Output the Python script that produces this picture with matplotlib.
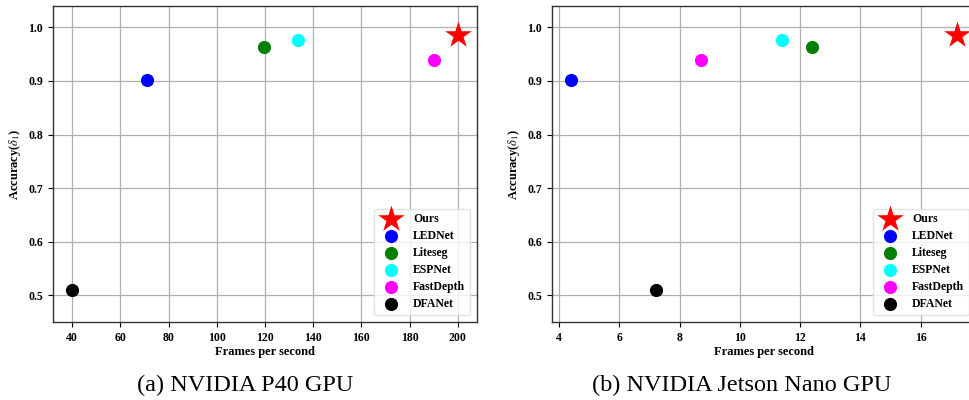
import matplotlib
matplotlib.use("Agg")
import matplotlib.pyplot as plt

plt.rcParams['font.family'] = ['Liberation Serif', 'DejaVu Serif']
plt.rcParams['mathtext.fontset'] = 'stix'

methods = ["Ours", "LEDNet", "Liteseg", "ESPNet", "FastDepth", "DFANet"]
colors = ["red", "blue", "green", "cyan", "magenta", "black"]
markers = ["*", "o", "o", "o", "o", "o"]

accuracy = [0.985, 0.902, 0.963, 0.977, 0.940, 0.510]
fps_p40 = [200, 71, 119.5, 133.5, 190, 40]
fps_nano = [17.2, 4.4, 12.4, 11.4, 8.7, 7.2]

captions = ["(a) NVIDIA P40 GPU", "(b) NVIDIA Jetson Nano GPU"]


def draw_panel(ax, fps):
    for name, x, y, c, m in zip(methods, fps, accuracy, colors, markers):
        size = 400 if m == "*" else 90
        ax.scatter(x, y, s=size, c=c, marker=m, label=name, zorder=3, linewidths=0)
    ax.set_ylim(0.45, 1.04)
    ax.grid(True, color="#b0b0b0", linewidth=0.9, zorder=0)
    ax.set_axisbelow(True)
    for sp in ax.spines.values():
        sp.set_color("#333333")
        sp.set_linewidth(1.0)
    ax.tick_params(labelsize=8.5, length=3.5, width=0.8)
    for lab in ax.get_xticklabels() + ax.get_yticklabels():
        lab.set_fontweight("bold")
    ax.set_xlabel("Frames per second", fontsize=9, fontweight="bold", labelpad=2)
    ax.set_ylabel(r"Accuracy($\delta_1$)", fontsize=9, fontweight="bold", labelpad=4)
    ax.legend(loc="lower right", prop={"weight": "bold", "size": 8.5},
              framealpha=0.8, edgecolor="#dddddd", handletextpad=0.9,
              labelspacing=0.42, borderpad=0.4, borderaxespad=0.6)


fig = plt.figure(figsize=(9.69, 4.0), dpi=100)
ax1 = fig.add_axes([53 / 969, 78 / 400, 424 / 969, 316 / 400])
ax2 = fig.add_axes([552 / 969, 78 / 400, 424 / 969, 316 / 400])

draw_panel(ax1, fps_p40)
draw_panel(ax2, fps_nano)

fig.text(245 / 969, 15 / 400, captions[0], ha="center", va="center", fontsize=17.5)
fig.text(742 / 969, 15 / 400, captions[1], ha="center", va="center", fontsize=17.5)

fig.savefig("out.png", dpi=100)
